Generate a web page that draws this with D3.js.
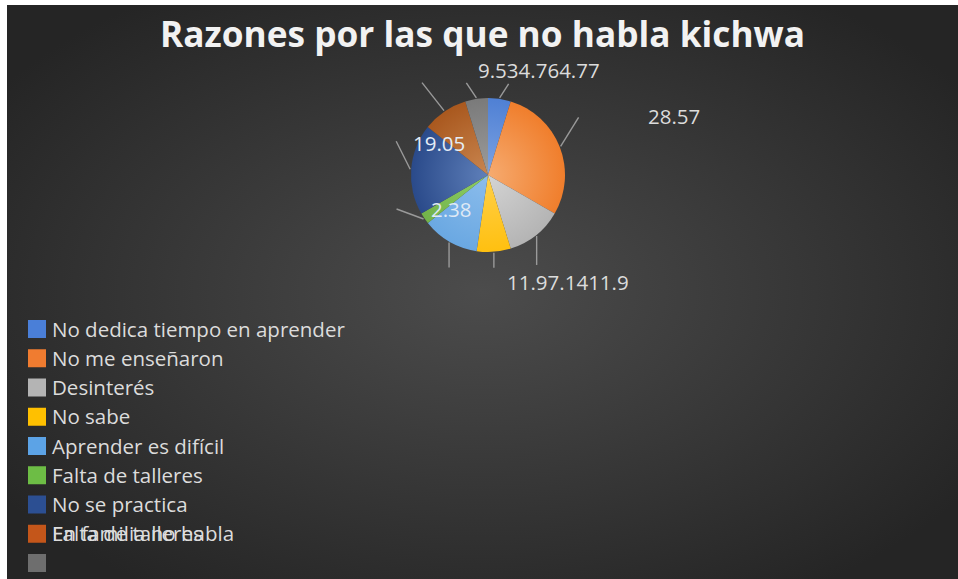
<!DOCTYPE html>
<html>
<head>
<meta charset="utf-8">
<script src="https://cdn.jsdelivr.net/npm/d3@7"></script>
<style>
  html, body { margin: 0; padding: 0; background: #ffffff; }
  svg { position: absolute; left: 7px; top: 5px; }
</style>
</head>
<body>
<script>
// ---- data ----
const categories = [
  "No dedica tiempo en aprender",
  "No me enseñaron",
  "Desinterés",
  "No sabe",
  "Aprender es difícil",
  "Falta de talleres",
  "No se practica",
  "En familia no habla",
  ""
];
const values = [4.76, 28.57, 11.9, 7.14, 11.9, 2.38, 19.05, 9.53, 4.77];
// the eighth legend entry is drawn with a second, stale caption on top of it
const legendOverlay = [null, null, null, null, null, null, null, "Falta de talleres", null];
const titleText = "Razones por las que no habla kichwa";

// ---- styling ----
const sliceInner = ["#7da3e3", "#f6ab70", "#d4d4d4", "#ffd04a", "#8cbdec", "#8fcf64", "#5f80ba", "#c98650", "#9c9c9c"];
const sliceOuter = ["#4f80d4", "#f07e2c", "#b4b4b4", "#ffc010", "#6aa8e2", "#72b34a", "#2a4a8a", "#a9581e", "#7a7a7a"];
const legendColors = ["#4a7fd8", "#f07c30", "#b4b4b4", "#ffc000", "#5ca3e6", "#6dbd45", "#2c4f92", "#c4561a", "#6e6e6e"];

const W = 951, H = 574;
const svg = d3.select("body").append("svg").attr("width", W).attr("height", H);
const defs = svg.append("defs");

const bg = defs.append("radialGradient").attr("id", "bg")
  .attr("cx", "50%").attr("cy", "50%").attr("r", "62%");
bg.append("stop").attr("offset", "0%").attr("stop-color", "#4c4c4c");
bg.append("stop").attr("offset", "100%").attr("stop-color", "#252525");
svg.append("rect").attr("width", W).attr("height", H).attr("fill", "url(#bg)");

// ---- title ----
svg.append("text")
  .attr("x", 475.5).attr("y", 42)
  .attr("text-anchor", "middle")
  .attr("font-family", "'Open Sans', sans-serif")
  .attr("font-weight", 700)
  .attr("font-size", 36)
  .attr("textLength", 645).attr("lengthAdjust", "spacingAndGlyphs")
  .attr("fill", "#f2f2f2")
  .text(titleText);

// ---- pie ----
const cx = 481, cy = 170, R = 77;
const g = svg.append("g").attr("transform", `translate(${cx},${cy})`);

values.forEach((v, i) => {
  const rg = defs.append("radialGradient").attr("id", "s" + i)
    .attr("gradientUnits", "userSpaceOnUse")
    .attr("cx", 0).attr("cy", 0).attr("r", R);
  rg.append("stop").attr("offset", "0%").attr("stop-color", sliceInner[i]);
  rg.append("stop").attr("offset", "100%").attr("stop-color", sliceOuter[i]);
});

const pie = d3.pie().sort(null).value(d => d)(values);
const arc = d3.arc().innerRadius(0).outerRadius(R);

g.selectAll("path.slice").data(pie).join("path")
  .attr("class", "slice")
  .attr("d", arc)
  .attr("fill", (d, i) => `url(#s${i})`);

// leader lines leave each slice at its mid-angle on the rim
const leaderOffsets = [[9, -14], [18, -29], [0, 29], [0, 15], [0, 25], [-27, -10], [-14, -28], [-22, -28], [-10, -15]];
g.selectAll("line.leader").data(pie).join("line")
  .attr("class", "leader")
  .each(function(d, i) {
    const a = (d.startAngle + d.endAngle) / 2;
    const x0 = Math.sin(a) * (R + 1), y0 = -Math.cos(a) * (R + 1);
    d3.select(this)
      .attr("x1", x0).attr("y1", y0)
      .attr("x2", x0 + leaderOffsets[i][0]).attr("y2", y0 + leaderOffsets[i][1]);
  })
  .attr("stroke", "#9a9a9a").attr("stroke-width", 1.4);

// ---- data labels ----
const labelGroups = [
  { slices: [7, 0, 8], x: 471, y: 73, fill: "#dcdcdc" },
  { slices: [1], x: 641, y: 119, fill: "#dcdcdc" },
  { slices: [2, 3, 4], x: 500, y: 285, fill: "#dcdcdc" },
  { slices: [6], x: 406, y: 146, fill: "#e4ecf6" },
  { slices: [5], x: 424, y: 212, fill: "#dfe9f5" }
];
labelGroups.forEach(grp => {
  const t = svg.append("text")
    .attr("x", grp.x).attr("y", grp.y)
    .attr("font-family", "'Open Sans', sans-serif")
    .attr("font-size", 20.5)
    .attr("font-weight", 500)
    .attr("fill", grp.fill);
  grp.slices.forEach(i => t.append("tspan").text(String(values[i])));
});

// ---- legend ----
const legendTop = 324, legendStep = 29.25;
const lg = svg.append("g");
categories.forEach((name, i) => {
  const yc = legendTop + i * legendStep;
  lg.append("rect")
    .attr("x", 21).attr("y", yc - 9).attr("width", 18).attr("height", 18)
    .attr("fill", legendColors[i]);
  const texts = [name];
  if (legendOverlay[i]) texts.push(legendOverlay[i]);
  texts.forEach(s => {
    lg.append("text")
      .attr("x", 45).attr("y", yc + 7.5)
      .attr("font-family", "'Open Sans', sans-serif")
      .attr("font-size", 20.5)
      .attr("font-weight", 500)
      .attr("fill", "#dcdcdc")
      .text(s);
  });
});
</script>
</body>
</html>
